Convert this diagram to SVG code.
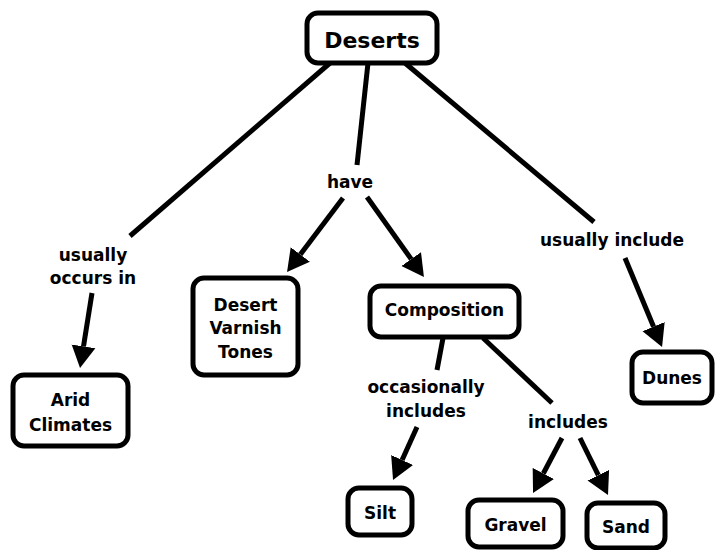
<svg xmlns="http://www.w3.org/2000/svg" width="715" height="550" viewBox="0 0 715 550">
<style>
.box{fill:#fff;stroke:#000;stroke-width:5}
.t{font-family:"DejaVu Sans","Liberation Sans",sans-serif;font-weight:bold;font-size:17px;text-anchor:middle;fill:#000}
.l{font-family:"DejaVu Sans","Liberation Sans",sans-serif;font-weight:bold;font-size:17px;text-anchor:middle;fill:#000}
.c{stroke:#000;stroke-width:5;fill:none}
.a{marker-end:url(#ah)}
</style>
<defs>
<marker id="ah" markerUnits="userSpaceOnUse" markerWidth="24" markerHeight="26" refX="0" refY="12" orient="auto" viewBox="0 0 24 24">
<path d="M0,0 L22,12 L0,24 z" fill="#000"/>
</marker>
</defs>
<rect width="715" height="550" fill="#fff"/>
<g id="connectors">
<line class="c" x1="330" y1="63" x2="130" y2="236"/>
<line class="c a" x1="92" y1="293" x2="83.5" y2="346.3"/>
<line class="c" x1="368" y1="63" x2="357" y2="165"/>
<line class="c a" x1="343" y1="198" x2="300.3" y2="254.5"/>
<line class="c a" x1="367" y1="197" x2="411.2" y2="259.1"/>
<line class="c" x1="405" y1="63" x2="594" y2="222"/>
<line class="c a" x1="625" y1="258" x2="653.6" y2="326.7"/>
<line class="c" x1="443" y1="338" x2="437" y2="370"/>
<line class="c a" x1="417" y1="427" x2="402.1" y2="460"/>
<line class="c" x1="483" y1="338" x2="552" y2="403"/>
<line class="c a" x1="562" y1="438" x2="543.3" y2="473.5"/>
<line class="c a" x1="580" y1="438" x2="598.3" y2="475.2"/>
<text class="l" x="93" y="261">usually</text>
<text class="l" x="93" y="284">occurs in</text>
<text class="l" x="350" y="188">have</text>
<text class="l" x="612" y="246">usually include</text>
<text class="l" x="426" y="393">occasionally</text>
<text class="l" x="426" y="417">includes</text>
<text class="l" x="568" y="428">includes</text>
</g>
<g id="deserts">
<rect class="box" x="307" y="13" width="130" height="50" rx="11"/>
<text class="t" x="372" y="48" style="font-size:22px">Deserts</text>
</g>
<g id="arid">
<rect class="box" x="13" y="375" width="115" height="71" rx="11"/>
<text class="t" x="70.5" y="406">Arid</text>
<text class="t" x="70.5" y="431">Climates</text>
</g>
<g id="varnish">
<rect class="box" x="193" y="278" width="105" height="97" rx="11"/>
<text class="t" x="245.5" y="311">Desert</text>
<text class="t" x="245.5" y="334">Varnish</text>
<text class="t" x="245.5" y="358">Tones</text>
</g>
<g id="composition">
<rect class="box" x="370" y="286" width="149" height="51" rx="11"/>
<text class="t" x="444.5" y="316">Composition</text>
</g>
<g id="dunes">
<rect class="box" x="632" y="352" width="80" height="51" rx="11"/>
<text class="t" x="672" y="384">Dunes</text>
</g>
<g id="silt">
<rect class="box" x="348" y="488" width="64" height="47" rx="11"/>
<text class="t" x="380" y="519">Silt</text>
</g>
<g id="gravel">
<rect class="box" x="468" y="500" width="95" height="47" rx="11"/>
<text class="t" x="515.5" y="531">Gravel</text>
</g>
<g id="sand">
<rect class="box" x="587" y="503" width="78" height="45" rx="11"/>
<text class="t" x="626" y="533">Sand</text>
</g>
</svg>
